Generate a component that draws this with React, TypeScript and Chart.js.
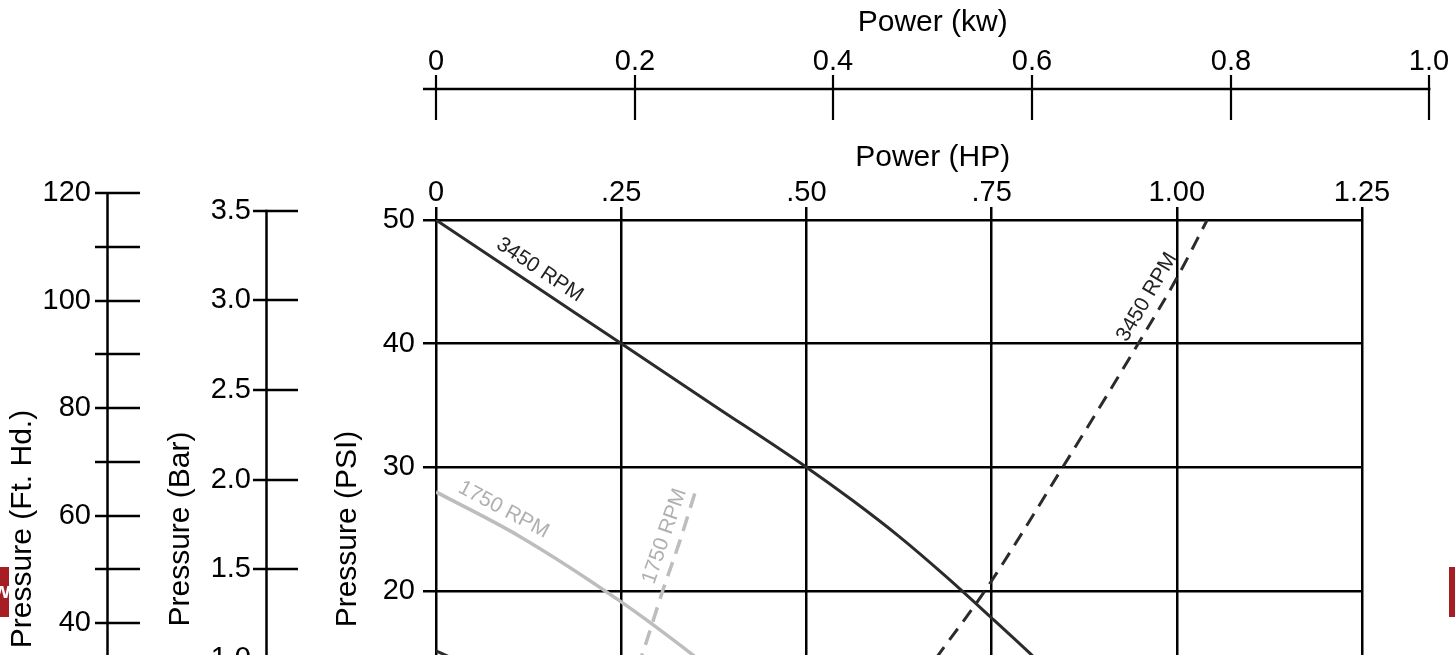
import React, { useEffect, useRef } from "react";
import { Chart, registerables } from "chart.js";

Chart.register(...registerables);

// ---------- axis definitions ----------
const HP_TICKS = [0, 0.25, 0.5, 0.75, 1.0, 1.25];
const HP_LABELS = ["0", ".25", ".50", ".75", "1.00", "1.25"];
const PSI_TICKS = [0, 10, 20, 30, 40, 50];
const KW_TICKS = [0, 0.2, 0.4, 0.6, 0.8, 1.0];
const KW_LABELS = ["0", "0.2", "0.4", "0.6", "0.8", "1.0"];
const FT_TICKS = [0, 10, 20, 30, 40, 50, 60, 70, 80, 90, 100, 110, 120];
const FT_LABELED = [0, 20, 40, 60, 80, 100, 120];
const BAR_TICKS = [0, 0.5, 1.0, 1.5, 2.0, 2.5, 3.0, 3.5];
const BAR_LABELS = ["0", "0.5", "1.0", "1.5", "2.0", "2.5", "3.0", "3.5"];

// unit conversions used by the nomogram scales
const PSI_PER_BAR = 14.5;
const FT_PER_PSI = 2.3;
const HP_PER_KW = 1.341;

// ---------- curve data (x = HP, y = PSI) ----------
const HP_3450_SOLID = [0, 0.125, 0.25, 0.375, 0.5, 0.5625, 0.625, 0.6875, 0.75, 0.806, 0.9];
const PSI_3450_SOLID = [50, 45, 40, 35, 30, 27.3, 24.4, 21.2, 17.8, 14.7, 9.3];

const HP_3450_DASH = [0.62, 0.678, 0.741, 0.846, 0.948, 1.0, 1.041];
const PSI_3450_DASH = [10, 14.8, 20, 30, 40, 45.3, 50];

const HP_1750_SOLID = [0, 0.113, 0.25, 0.347, 0.42];
const PSI_1750_SOLID = [28, 24.4, 19.1, 14.8, 11.3];

const HP_1750_DASH = [0.26, 0.278, 0.306, 0.329, 0.35];
const PSI_1750_DASH = [12, 14.8, 20, 24, 28];

// curve partly visible at the lower-left edge
const HP_LOWER = [0, 0.12];
const PSI_LOWER = [15.15, 11.9];

const CURVE_LABELS = [
  { text: "3450 RPM", ds: 0, along: "x", value: 0.128 },
  { text: "3450 RPM", ds: 1, along: "y", value: 43.1 },
  { text: "1750 RPM", ds: 2, along: "x", value: 0.081 },
  { text: "1750 RPM", ds: 3, along: "y", value: 24 },
];

// ---------- styles ----------
const W = 1455;
const H = 900;
const FONT = "'Liberation Sans', Arial, Helvetica, sans-serif";
const INK = "#000000";
const DARK = "#2b2b2b";
const LIGHT = "#bdbdbd";
const LIGHT_TEXT = "#b0b0b0";

const toPts = (xs: number[], ys: number[]) => xs.map((x, i) => ({ x, y: ys[i] }));

function pointOn(chart: any, dsIndex: number, along: string, value: number) {
  const data = chart.data.datasets[dsIndex].data as { x: number; y: number }[];
  const sx = chart.scales.x;
  const sy = chart.scales.y;
  for (let i = 0; i < data.length - 1; i++) {
    const a = along === "x" ? data[i].x : data[i].y;
    const b = along === "x" ? data[i + 1].x : data[i + 1].y;
    if ((value - a) * (value - b) <= 0 && a !== b) {
      const t = (value - a) / (b - a);
      const x0 = sx.getPixelForValue(data[i].x);
      const y0 = sy.getPixelForValue(data[i].y);
      const x1 = sx.getPixelForValue(data[i + 1].x);
      const y1 = sy.getPixelForValue(data[i + 1].y);
      let ang = Math.atan2(y1 - y0, x1 - x0);
      if (ang > Math.PI / 2) ang -= Math.PI;
      if (ang < -Math.PI / 2) ang += Math.PI;
      return { px: x0 + t * (x1 - x0), py: y0 + t * (y1 - y0), ang };
    }
  }
  return null;
}

const nomogram = {
  id: "nomogram",
  afterDraw(chart: any) {
    const ctx: CanvasRenderingContext2D = chart.ctx;
    const { xKw, yFt, yBar } = chart.scales;
    ctx.save();
    ctx.strokeStyle = INK;
    ctx.fillStyle = INK;
    ctx.lineCap = "butt";

    // ---- kW axis (top) ----
    const kwY = 89;
    const kx0 = xKw.getPixelForValue(0);
    const kx1 = xKw.getPixelForValue(KW_TICKS[KW_TICKS.length - 1]);
    ctx.lineWidth = 2.5;
    ctx.beginPath();
    ctx.moveTo(kx0 - 13, kwY);
    ctx.lineTo(kx1 + 1, kwY);
    ctx.stroke();
    ctx.lineWidth = 2.2;
    ctx.font = `29px ${FONT}`;
    ctx.textAlign = "center";
    ctx.textBaseline = "middle";
    KW_TICKS.forEach((v, i) => {
      const px = Math.round(xKw.getPixelForValue(v));
      ctx.beginPath();
      ctx.moveTo(px, kwY - 14);
      ctx.lineTo(px, kwY + 31);
      ctx.stroke();
      ctx.fillText(KW_LABELS[i], px, 62);
    });
    const midX = xKw.getPixelForValue(0.5);
    ctx.font = `30px ${FONT}`;
    ctx.fillText("Power (kw)", midX, 23);
    ctx.fillText("Power (HP)", midX, 157.5);

    // ---- Ft. Hd. axis ----
    const ftX = 107.5;
    ctx.lineWidth = 2.5;
    ctx.beginPath();
    ctx.moveTo(ftX, yFt.getPixelForValue(FT_TICKS[FT_TICKS.length - 1]) - 1);
    ctx.lineTo(ftX, yFt.getPixelForValue(0));
    ctx.stroke();
    ctx.font = `29px ${FONT}`;
    ctx.textAlign = "right";
    FT_TICKS.forEach((v) => {
      const py = Math.round(yFt.getPixelForValue(v));
      ctx.beginPath();
      ctx.moveTo(95, py);
      ctx.lineTo(140, py);
      ctx.stroke();
      if (FT_LABELED.includes(v)) ctx.fillText(String(v), 91, py);
    });

    // ---- Bar axis ----
    const barX = 266.5;
    ctx.beginPath();
    ctx.moveTo(barX, yBar.getPixelForValue(BAR_TICKS[BAR_TICKS.length - 1]) - 1);
    ctx.lineTo(barX, yBar.getPixelForValue(0));
    ctx.stroke();
    BAR_TICKS.forEach((v, i) => {
      const py = Math.round(yBar.getPixelForValue(v));
      ctx.beginPath();
      ctx.moveTo(253, py);
      ctx.lineTo(298, py);
      ctx.stroke();
      ctx.fillText(BAR_LABELS[i], 251, py);
    });

    // ---- rotated axis titles ----
    const midY = (chart.chartArea.top + chart.chartArea.bottom) / 2;
    ctx.font = `30px ${FONT}`;
    ctx.textAlign = "center";
    ctx.textBaseline = "middle";
    [
      { t: "Pressure (Ft. Hd.)", x: 22.5 },
      { t: "Pressure (Bar)", x: 180.5 },
    ].forEach(({ t, x }) => {
      ctx.save();
      ctx.translate(x, midY);
      ctx.rotate(-Math.PI / 2);
      ctx.fillText(t, 0, 0);
      ctx.restore();
    });

    // ---- curve labels ----
    ctx.font = `21px ${FONT}`;
    CURVE_LABELS.forEach((lab) => {
      const p = pointOn(chart, lab.ds, lab.along, lab.value);
      if (!p) return;
      const off = 16;
      ctx.save();
      ctx.fillStyle = lab.ds >= 2 ? LIGHT_TEXT : "#222222";
      ctx.translate(p.px + off * Math.sin(p.ang), p.py - off * Math.cos(p.ang));
      ctx.rotate(p.ang);
      ctx.fillText(lab.text, 0, 0);
      ctx.restore();
    });

    // ---- page watermark fragments ----
    ctx.fillStyle = "#a61d24";
    ctx.fillRect(0, 567, 9, 50);
    ctx.fillRect(1449, 567, 6, 50);
    ctx.save();
    ctx.beginPath();
    ctx.rect(0, 567, 9, 50);
    ctx.clip();
    ctx.fillStyle = "#ffffff";
    ctx.font = `bold 22px ${FONT}`;
    ctx.textAlign = "left";
    ctx.fillText("w", -7, 592);
    ctx.restore();

    ctx.restore();
  },
};

export default function App() {
  const ref = useRef<HTMLCanvasElement>(null);

  useEffect(() => {
    const canvas = ref.current;
    if (!canvas) return;
    const tickFont = { family: FONT, size: 29, lineHeight: 1 };
    const chart = new Chart(canvas, {
      type: "line",
      data: {
        datasets: [
          {
            label: "3450 RPM pressure",
            data: toPts(HP_3450_SOLID, PSI_3450_SOLID),
            borderColor: DARK,
            borderWidth: 3,
            xAxisID: "x",
            yAxisID: "y",
          },
          {
            label: "3450 RPM power",
            data: toPts(HP_3450_DASH, PSI_3450_DASH),
            borderColor: DARK,
            borderWidth: 3,
            borderDash: [14, 9],
            xAxisID: "x",
            yAxisID: "y",
          },
          {
            label: "1750 RPM pressure",
            data: toPts(HP_1750_SOLID, PSI_1750_SOLID),
            borderColor: LIGHT,
            borderWidth: 3.5,
            xAxisID: "x",
            yAxisID: "y",
          },
          {
            label: "1750 RPM power",
            data: toPts(HP_1750_DASH, PSI_1750_DASH),
            borderColor: LIGHT,
            borderWidth: 3.5,
            borderDash: [15, 9],
            xAxisID: "x",
            yAxisID: "y",
          },
          {
            label: "lower curve",
            data: toPts(HP_LOWER, PSI_LOWER),
            borderColor: DARK,
            borderWidth: 3,
            xAxisID: "x",
            yAxisID: "y",
          },
        ],
      },
      options: {
        responsive: false,
        animation: false,
        devicePixelRatio: 1,
        layout: { padding: { left: 320, top: 0, right: W - 1362, bottom: H - 838 } },
        plugins: { legend: { display: false }, tooltip: { enabled: false }, title: { display: false } },
        elements: {
          point: { radius: 0 },
          line: { cubicInterpolationMode: "monotone", fill: false },
        },
        scales: {
          x: {
            type: "linear",
            position: "top",
            min: 0,
            max: 1.25,
            afterBuildTicks: (s: any) => {
              s.ticks = HP_TICKS.map((v) => ({ value: v }));
            },
            afterFit: (s: any) => {
              s.height = 220;
            },
            ticks: {
              autoSkip: false,
              maxRotation: 0,
              padding: 0,
              color: INK,
              font: tickFont,
              callback: (v: any) => HP_LABELS[HP_TICKS.indexOf(Number(v))] ?? "",
            },
            grid: { color: INK, lineWidth: 2.5, tickLength: 13 },
            border: { display: false },
          },
          y: {
            type: "linear",
            position: "left",
            min: 0,
            max: 50,
            afterBuildTicks: (s: any) => {
              s.ticks = PSI_TICKS.map((v) => ({ value: v }));
            },
            afterFit: (s: any) => {
              s.width = 116;
            },
            ticks: { padding: 8, color: INK, font: tickFont },
            grid: { color: INK, lineWidth: 2.5, tickLength: 13 },
            border: { display: false },
            title: {
              display: true,
              text: "Pressure (PSI)",
              color: INK,
              font: { family: FONT, size: 30 },
              padding: { top: 9.5, bottom: 0 },
            },
          },
          xKw: { type: "linear", display: false, position: "top", min: 0, max: 1.25 / HP_PER_KW },
          yFt: { type: "linear", display: false, position: "left", min: 0, max: 50 * FT_PER_PSI },
          yBar: { type: "linear", display: false, position: "left", min: 0, max: 50 / PSI_PER_BAR },
        },
      } as any,
      plugins: [nomogram],
    });
    return () => chart.destroy();
  }, []);

  return (
    <div
      style={{
        position: "fixed",
        top: 0,
        left: 0,
        width: W,
        height: 655,
        overflow: "hidden",
        background: "#ffffff",
      }}
    >
      <canvas ref={ref} width={W} height={H} style={{ display: "block", width: W, height: H }} />
    </div>
  );
}
